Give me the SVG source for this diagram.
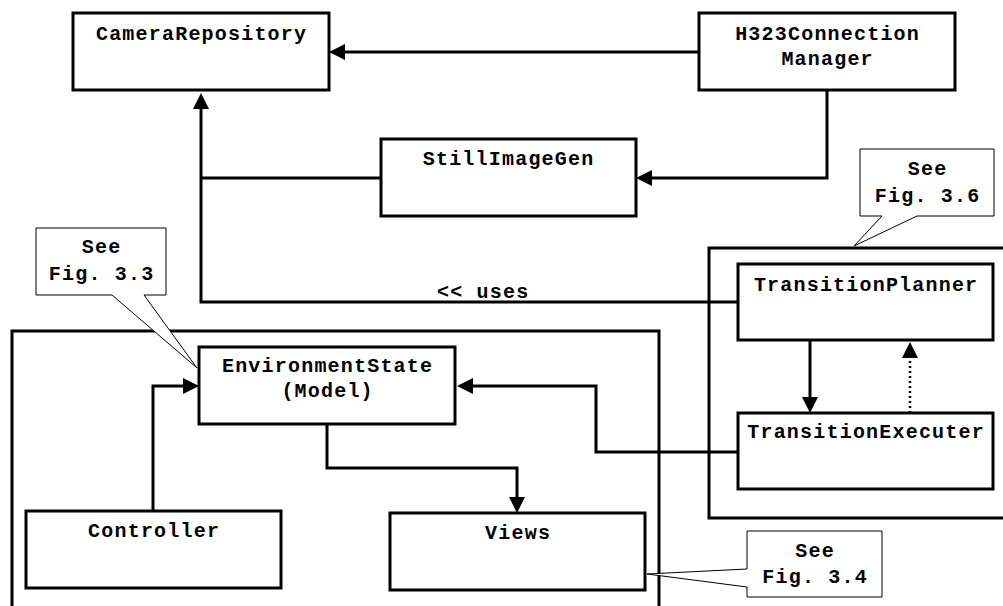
<svg xmlns="http://www.w3.org/2000/svg" width="1003" height="606" viewBox="0 0 1003 606">
<style>
.box{fill:#fff;stroke:#000;stroke-width:3}
.cont{fill:none;stroke:#000;stroke-width:3}
.conn{fill:none;stroke:#000;stroke-width:3}
.dot{fill:none;stroke:#000;stroke-width:2.5;stroke-dasharray:2 3}
.note{fill:#fff;stroke:#000;stroke-width:1}
.t{font-family:"Liberation Mono","Courier New",monospace;font-size:20px;letter-spacing:1.2px;font-weight:bold;fill:#000;text-anchor:middle}
.tl{font-family:"Liberation Mono","Courier New",monospace;font-size:20px;letter-spacing:1.2px;font-weight:bold;fill:#000}
</style>
<defs>
<marker id="ah" viewBox="0 0 16 16" markerWidth="16" markerHeight="16" refX="8" refY="8" orient="auto" markerUnits="userSpaceOnUse">
<path d="M0,0 L16,8 L0,16 z" fill="#000"/>
</marker>
</defs>
<rect width="1003" height="606" fill="#fff"/>

<g id="containers">
<path class="cont" d="M12,610 V331 H659 V610"/>
<path class="cont" d="M1010,248 H709 V518 H1010"/>
</g>

<g id="connectors">
<path class="conn" d="M699,52 H337" marker-end="url(#ah)"/>
<path class="conn" d="M827,90 V178 H644" marker-end="url(#ah)"/>
<path class="conn" d="M381,178 H201"/>
<path class="conn" d="M738,302 H201 V101" marker-end="url(#ah)"/>
<path class="conn" d="M810,340 V405" marker-end="url(#ah)"/>
<path class="dot" d="M910,413 V350"/>
<path d="M902,358 L910,342 L918,358 z" fill="#000"/>
<path class="conn" d="M738,452 H596 V386 H465" marker-end="url(#ah)"/>
<path class="conn" d="M153,511 V386 H191" marker-end="url(#ah)"/>
<path class="conn" d="M327,424 V468 H517 V505" marker-end="url(#ah)"/>
</g>
<text class="tl" x="437" y="298">&lt;&lt; uses</text>

<g id="CameraRepository">
<rect class="box" x="73" y="13" width="256" height="77"/>
<text class="t" x="201.6" y="40">CameraRepository</text>
</g>
<g id="H323ConnectionManager">
<rect class="box" x="699" y="13" width="256" height="77"/>
<text class="t" x="827.6" y="40">H323Connection</text>
<text class="t" x="827.6" y="65">Manager</text>
</g>
<g id="StillImageGen">
<rect class="box" x="381" y="139" width="255" height="77"/>
<text class="t" x="508.6" y="165">StillImageGen</text>
</g>
<g id="TransitionPlanner">
<rect class="box" x="738" y="264" width="255" height="76"/>
<text class="t" x="866.1" y="291">TransitionPlanner</text>
</g>
<g id="TransitionExecuter">
<rect class="box" x="738" y="413" width="255" height="76"/>
<text class="t" x="866.1" y="438">TransitionExecuter</text>
</g>
<g id="EnvironmentState">
<rect class="box" x="199" y="347" width="256" height="77"/>
<text class="t" x="327.6" y="372">EnvironmentState</text>
<text class="t" x="327.6" y="397">(Model)</text>
</g>
<g id="Controller">
<rect class="box" x="26" y="511" width="255" height="77"/>
<text class="t" x="154.1" y="537">Controller</text>
</g>
<g id="Views">
<rect class="box" x="390" y="513" width="255" height="77"/>
<text class="t" x="518.1" y="539">Views</text>
</g>

<g id="note33">
<path class="note" d="M36,228 H166 V295 H144 L197,368 L112,295 H36 Z"/>
<text class="t" x="101.6" y="253">See</text>
<text class="t" x="101.6" y="280">Fig. 3.3</text>
</g>
<g id="note36">
<path class="note" d="M860,149 H994 V216 H917 L854,246 L882,216 H860 Z"/>
<text class="t" x="927.6" y="175">See</text>
<text class="t" x="927.6" y="202">Fig. 3.6</text>
</g>
<g id="note34">
<path class="note" d="M747,531 H882 V597 H747 V587 L647,574 L747,569 Z"/>
<text class="t" x="815.1" y="557">See</text>
<text class="t" x="815.1" y="583">Fig. 3.4</text>
</g>
</svg>
